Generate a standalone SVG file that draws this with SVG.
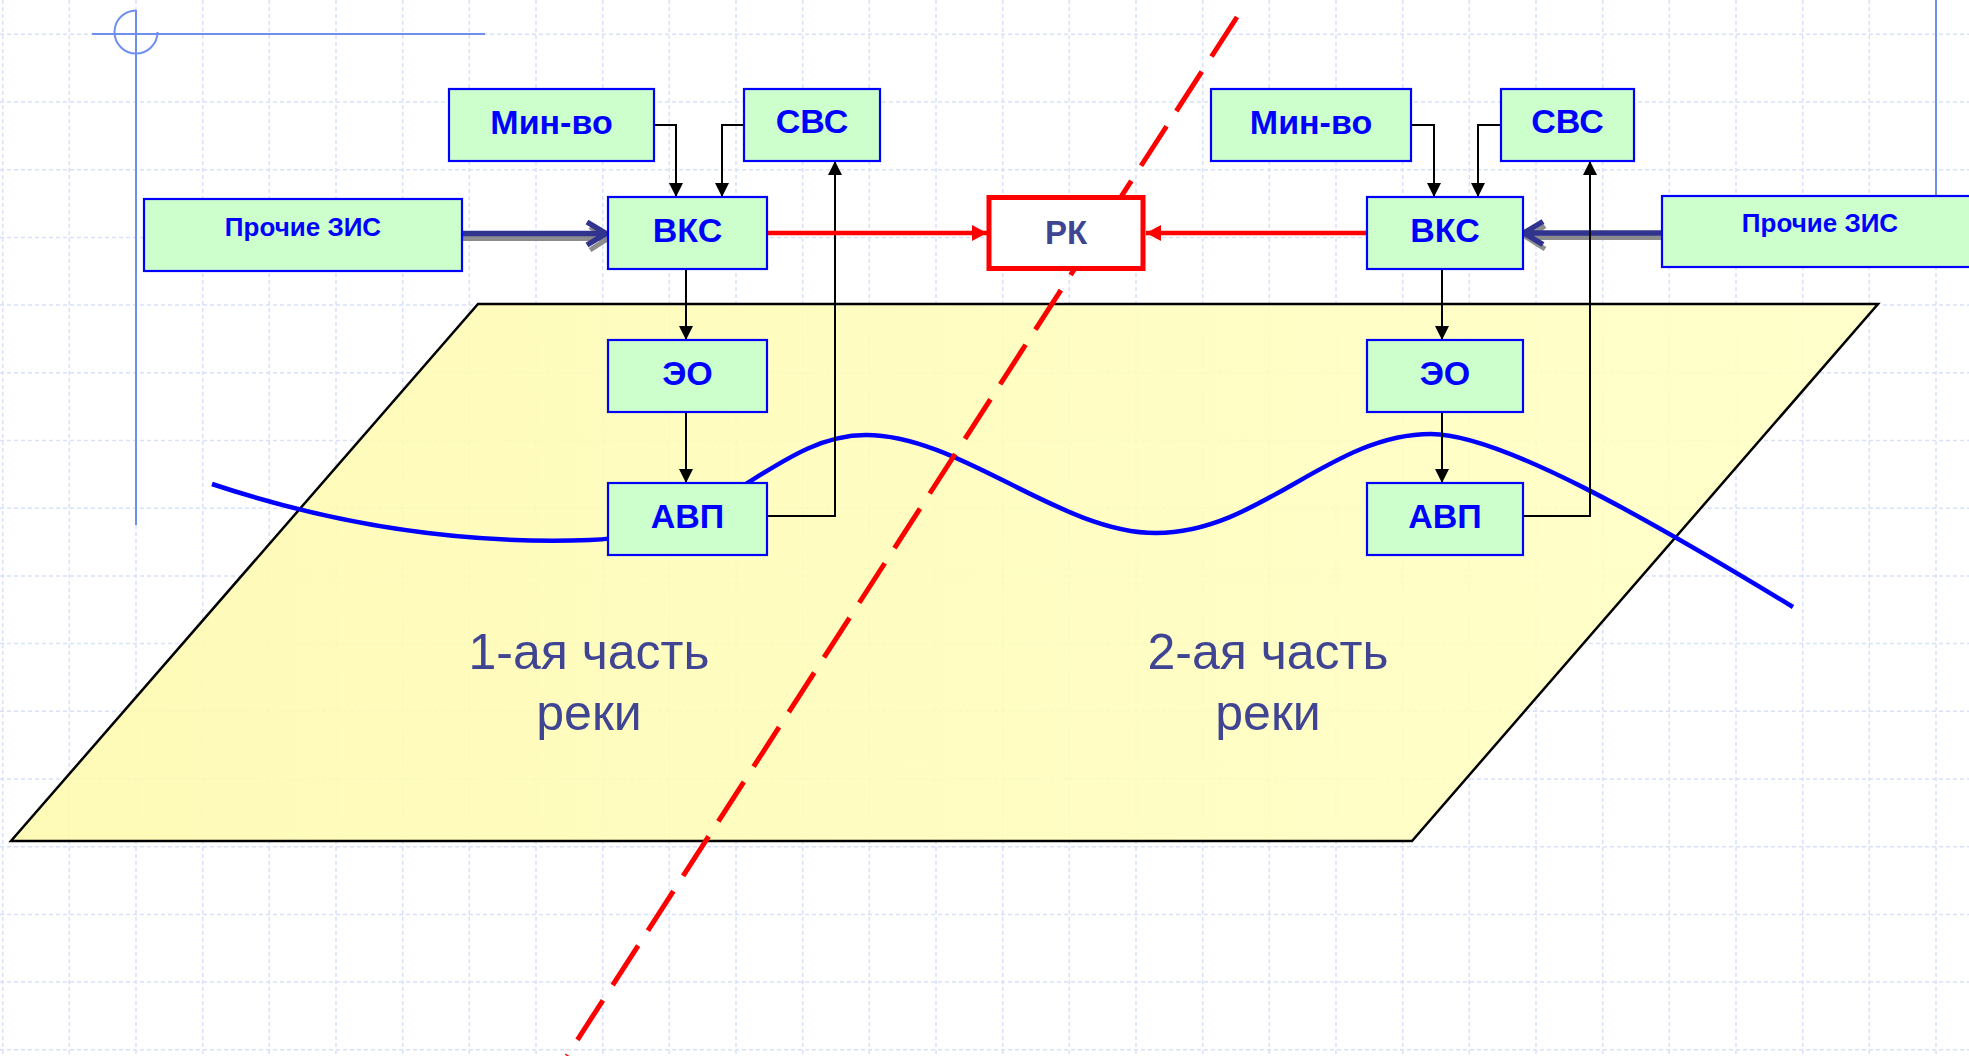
<svg xmlns="http://www.w3.org/2000/svg" width="1969" height="1056" viewBox="0 0 1969 1056">
<defs>
<style>
.grid{stroke:#d9e1fa;stroke-width:1.5;stroke-dasharray:4 3;fill:none}
.deco{stroke:#6f8ff0;stroke-width:2;fill:none}
.box rect{fill:#ccffcc;stroke:#0000ff;stroke-width:2.2}
.box text{font-family:"Liberation Sans",Arial,sans-serif;font-weight:bold;fill:#0000ff;text-anchor:middle}
.big{font-size:34px}
.small{font-size:26px}
.conn{stroke:#000;stroke-width:2;fill:none;marker-end:url(#ab)}
.red{stroke:#ff0000;stroke-width:4.5;fill:none;marker-end:url(#ar)}
.thick{stroke:#30348f;stroke-width:5.5;fill:none;stroke-linejoin:miter;stroke-linecap:butt}
.shadow{stroke:#8c8c8c;stroke-width:5;fill:none}
.part{font-family:"Liberation Sans",Arial,sans-serif;font-size:50px;fill:#3f4593;text-anchor:middle}
</style>
<marker id="ab" markerUnits="userSpaceOnUse" markerWidth="14" markerHeight="14" refX="14" refY="7" orient="auto">
<path d="M0,0 L14,7 L0,14 z" fill="#000"/>
</marker>
<marker id="ar" markerUnits="userSpaceOnUse" markerWidth="15" markerHeight="16" refX="15" refY="8" orient="auto">
<path d="M0,0 L15,8 L0,16 z" fill="#ff0000"/>
</marker>
<linearGradient id="yel" x1="0" y1="0" x2="1" y2="0">
<stop offset="0" stop-color="#fefaae"/>
<stop offset="1" stop-color="#ffffc4"/>
</linearGradient>
</defs>
<rect width="1969" height="1056" fill="#ffffff"/>
<g id="grid" class="grid">
<path d="M2.7,0V1056M69.3,0V1056M136,0V1056M202.7,0V1056M269.3,0V1056M336,0V1056M402.7,0V1056M469.3,0V1056M536,0V1056M602.7,0V1056M669.3,0V1056M736,0V1056M802.7,0V1056M869.3,0V1056M936,0V1056M1002.7,0V1056M1069.3,0V1056M1136,0V1056M1202.7,0V1056M1269.3,0V1056M1336,0V1056M1402.7,0V1056M1469.3,0V1056M1536,0V1056M1602.7,0V1056M1669.3,0V1056M1736,0V1056M1802.7,0V1056M1869.3,0V1056M1936,0V1056"/>
<path d="M0,34.3H1969M0,102H1969M0,169.7H1969M0,237.4H1969M0,305.1H1969M0,372.8H1969M0,440.5H1969M0,508.2H1969M0,575.9H1969M0,643.6H1969M0,711.3H1969M0,779H1969M0,846.7H1969M0,914.4H1969M0,982.1H1969M0,1049.8H1969"/>
</g>
<g id="decoration" class="deco">
<path d="M92,34H485"/>
<path d="M136,10V525"/>
<path d="M136,10.5 A21.5,21.5 0 1 0 157.5,32"/>
<path d="M1936,0V196"/>
</g>
<g id="river-plane">
<polygon points="478,304 1878,304 1412,841 11,841" fill="url(#yel)" fill-opacity="0.88" stroke="#000" stroke-width="2.5" stroke-linejoin="miter"/>
<text class="part" x="589" y="669">1-ая часть</text>
<text class="part" x="589" y="730">реки</text>
<text class="part" x="1268" y="669">2-ая часть</text>
<text class="part" x="1268" y="730">реки</text>
</g>
<g id="river">
<path d="M212,484 C320,520 450,545 590,540 C720,536 775,435 866,435 C960,435 1060,533 1156,533 C1260,533 1330,434 1431,434 C1500,434 1650,520 1793,607" fill="none" stroke="#0000ff" stroke-width="4.5" stroke-linecap="butt"/>
</g>
<g id="border-line">
<path d="M1237,17 L567,1056" fill="none" stroke="#ff0000" stroke-width="5" stroke-dasharray="47 18"/>
</g>
<g id="connectors">
<path class="shadow" d="M462,238.5H603M590,227 L608,238.5 L590,250"/>
<path class="thick" d="M462,233.5H604M587,222 L606,233.5 L587,245"/>
<path class="shadow" d="M1662,237.5H1528M1545,226 L1527,237.5 L1545,249"/>
<path class="thick" d="M1662,233H1526M1543,221.5 L1524,233 L1543,244.5"/>
<path class="conn" d="M654,125H676V197"/>
<path class="conn" d="M744,125H722V197"/>
<path class="conn" d="M686,269V340"/>
<path class="conn" d="M686,412V483"/>
<path class="conn" d="M767,516H835V161"/>
<path class="conn" d="M1411,125H1434V197"/>
<path class="conn" d="M1501,125H1478V197"/>
<path class="conn" d="M1442,269V340"/>
<path class="conn" d="M1442,412V483"/>
<path class="conn" d="M1523,516H1590V161"/>
<path class="red" d="M767,233H987"/>
<path class="red" d="M1367,233H1146"/>
</g>
<g id="prochie-zis-1" class="box"><rect x="144" y="199" width="318" height="72"/><text class="small" x="303" y="236">Прочие ЗИС</text></g>
<g id="minvo-1" class="box"><rect x="449" y="89" width="205" height="72"/><text class="big" x="551.5" y="134">Мин-во</text></g>
<g id="svs-1" class="box"><rect x="744" y="89" width="136" height="72"/><text class="big" x="812" y="133">СВС</text></g>
<g id="vks-1" class="box"><rect x="608" y="197" width="159" height="72"/><text class="big" x="687.5" y="242">ВКС</text></g>
<g id="eo-1" class="box"><rect x="608" y="340" width="159" height="72"/><text class="big" x="687.5" y="385">ЭО</text></g>
<g id="avp-1" class="box"><rect x="608" y="483" width="159" height="72"/><text class="big" x="687.5" y="528">АВП</text></g>
<g id="rk"><rect x="989" y="197.5" width="154" height="71" fill="#ffffff" stroke="#ff0000" stroke-width="5"/><text x="1066" y="244" font-family="Liberation Sans, Arial, sans-serif" font-weight="bold" font-size="33" fill="#3f4593" text-anchor="middle">РК</text></g>
<g id="minvo-2" class="box"><rect x="1211" y="89" width="200" height="72"/><text class="big" x="1311" y="134">Мин-во</text></g>
<g id="svs-2" class="box"><rect x="1501" y="89" width="133" height="72"/><text class="big" x="1567.5" y="133">СВС</text></g>
<g id="vks-2" class="box"><rect x="1367" y="197" width="156" height="72"/><text class="big" x="1445" y="242">ВКС</text></g>
<g id="eo-2" class="box"><rect x="1367" y="340" width="156" height="72"/><text class="big" x="1445" y="385">ЭО</text></g>
<g id="avp-2" class="box"><rect x="1367" y="483" width="156" height="72"/><text class="big" x="1445" y="528">АВП</text></g>
<g id="prochie-zis-2" class="box"><rect x="1662" y="196" width="316" height="71"/><text class="small" x="1820" y="232">Прочие ЗИС</text></g>
</svg>
